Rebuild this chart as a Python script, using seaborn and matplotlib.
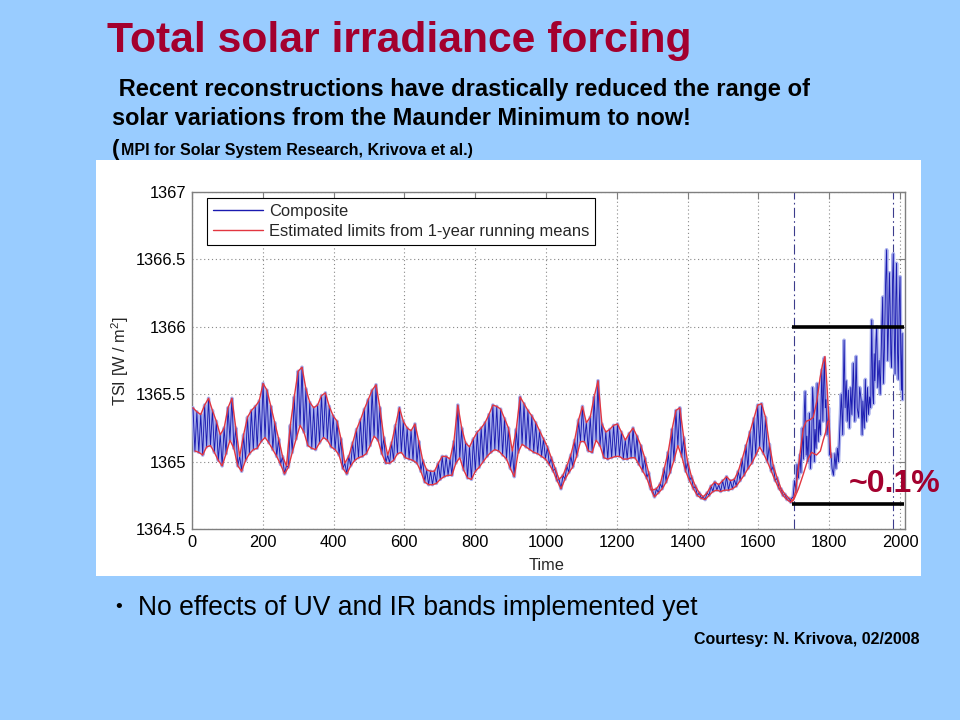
import numpy as np
import pandas as pd
import matplotlib
matplotlib.use("Agg")
import matplotlib.pyplot as plt
from matplotlib.patches import Rectangle
from matplotlib.lines import Line2D
from matplotlib.ticker import FuncFormatter
import seaborn as sns

# ---------------- data ----------------
# Composite TSI, one maximum and one minimum per ~11-year solar cycle, years 0..1690
cycle_max = [
    1365.40, 1365.37, 1365.35, 1365.42, 1365.47, 1365.38, 1365.30, 1365.20, 1365.25, 1365.40,
    1365.47, 1365.25, 1365.04, 1365.20, 1365.33, 1365.38, 1365.41, 1365.45, 1365.58, 1365.53,
    1365.41, 1365.29, 1365.17, 1365.04, 1364.97, 1365.27, 1365.48, 1365.67, 1365.70, 1365.54,
    1365.44, 1365.40, 1365.42, 1365.49, 1365.51, 1365.41, 1365.34, 1365.30, 1365.17, 1364.99,
    1365.04, 1365.14, 1365.24, 1365.31, 1365.39, 1365.46, 1365.53, 1365.57, 1365.40, 1365.18,
    1365.05, 1365.14, 1365.27, 1365.40, 1365.30, 1365.25, 1365.23, 1365.28, 1365.15, 1365.01,
    1364.94, 1364.93, 1364.93, 1364.99, 1365.04, 1365.04, 1365.02, 1365.15, 1365.42, 1365.25,
    1365.14, 1365.11, 1365.17, 1365.22, 1365.25, 1365.29, 1365.35, 1365.42, 1365.41, 1365.39,
    1365.32, 1365.25, 1365.08, 1365.24, 1365.48, 1365.43, 1365.38, 1365.34, 1365.29, 1365.23,
    1365.17, 1365.11, 1365.03, 1364.95, 1364.87, 1364.90, 1364.97, 1365.05, 1365.16, 1365.31,
    1365.41, 1365.29, 1365.33, 1365.48, 1365.60, 1365.28, 1365.22, 1365.24, 1365.27, 1365.28,
    1365.22, 1365.16, 1365.21, 1365.25, 1365.19, 1365.12, 1365.03, 1364.92, 1364.79, 1364.80,
    1364.84, 1364.95, 1365.07, 1365.24, 1365.38, 1365.40, 1365.18, 1365.00, 1364.89, 1364.82,
    1364.77, 1364.74, 1364.77, 1364.82, 1364.85, 1364.83, 1364.86, 1364.89, 1364.86, 1364.87,
    1364.93, 1365.02, 1365.12, 1365.22, 1365.32, 1365.42, 1365.43, 1365.33, 1365.13, 1364.97,
    1364.88, 1364.80, 1364.76, 1364.73,
]
cycle_min = [
    1365.08, 1365.07, 1365.05, 1365.11, 1365.12, 1365.07, 1365.01, 1364.97, 1365.06, 1365.16,
    1365.10, 1364.97, 1364.93, 1365.01, 1365.06, 1365.09, 1365.10, 1365.15, 1365.18, 1365.14,
    1365.09, 1365.04, 1364.98, 1364.91, 1364.96, 1365.07, 1365.17, 1365.27, 1365.22, 1365.12,
    1365.10, 1365.09, 1365.14, 1365.18, 1365.16, 1365.11, 1365.09, 1365.05, 1364.95, 1364.91,
    1364.97, 1365.01, 1365.03, 1365.04, 1365.06, 1365.12, 1365.19, 1365.16, 1365.06, 1364.99,
    1364.99, 1365.01, 1365.06, 1365.07, 1365.03, 1365.02, 1365.01, 1364.99, 1364.93, 1364.85,
    1364.83, 1364.83, 1364.84, 1364.87, 1364.89, 1364.90, 1364.90, 1364.99, 1365.03, 1364.94,
    1364.88, 1364.87, 1364.93, 1364.96, 1365.00, 1365.04, 1365.07, 1365.09, 1365.08, 1365.05,
    1365.02, 1364.95, 1364.89, 1365.07, 1365.13, 1365.11, 1365.09, 1365.07, 1365.06, 1365.04,
    1365.02, 1364.98, 1364.93, 1364.86, 1364.80, 1364.87, 1364.92, 1364.96, 1365.04, 1365.15,
    1365.15, 1365.08, 1365.07, 1365.16, 1365.12, 1365.03, 1365.02, 1365.03, 1365.04, 1365.04,
    1365.02, 1365.02, 1365.03, 1365.03, 1364.98, 1364.93, 1364.88, 1364.80, 1364.74, 1364.77,
    1364.80, 1364.85, 1364.92, 1365.01, 1365.12, 1365.04, 1364.93, 1364.86, 1364.80, 1364.75,
    1364.73, 1364.72, 1364.75, 1364.78, 1364.79, 1364.78, 1364.79, 1364.79, 1364.80, 1364.82,
    1364.86, 1364.90, 1364.95, 1364.99, 1365.05, 1365.11, 1365.06, 1365.00, 1364.93, 1364.86,
    1364.80, 1364.75, 1364.72, 1364.70,
]
cycle_length = 11.0  # years per solar cycle

# Composite after the Maunder Minimum (telescope era)
modern_year = [
    1690, 1694, 1698, 1702, 1706, 1709, 1713, 1717, 1720, 1724, 1727, 1730, 1732, 1735, 1737,
    1740, 1744, 1747, 1750, 1753, 1755, 1758, 1760, 1763, 1766, 1769, 1772, 1775, 1779, 1782,
    1786, 1789, 1791, 1794, 1798, 1801, 1805, 1808, 1812, 1816, 1819, 1823, 1826, 1830, 1834,
    1838, 1842, 1845, 1848, 1851, 1854, 1857, 1861, 1864, 1868, 1872, 1876, 1879, 1883, 1886,
    1890, 1893, 1895, 1899, 1902, 1905, 1908, 1911, 1914, 1917, 1920, 1923, 1925, 1927, 1929,
    1932, 1934, 1937, 1941, 1944, 1948, 1951, 1953, 1956, 1959, 1962, 1965, 1967, 1970, 1972,
    1974, 1976, 1979, 1981, 1984, 1986, 1988, 1990, 1993, 1995, 1998, 2000, 2002, 2004, 2006,
    2007,
]
modern_tsi = [
    1364.71, 1364.73, 1364.74, 1364.86, 1364.78, 1364.98, 1364.88, 1365.05, 1364.92, 1365.25,
    1365.02, 1365.40, 1365.52, 1365.05, 1365.19, 1365.00, 1365.36, 1364.95, 1365.11, 1365.55,
    1365.45, 1365.00, 1365.24, 1365.10, 1365.58, 1365.15, 1365.31, 1365.20, 1365.68, 1365.30,
    1365.77, 1365.40, 1365.46, 1365.20, 1365.40, 1365.05, 1365.06, 1364.95, 1364.90, 1365.06,
    1364.95, 1365.10, 1365.00, 1365.26, 1365.50, 1365.20, 1365.90, 1365.40, 1365.60, 1365.30,
    1365.53, 1365.25, 1365.55, 1365.35, 1365.73, 1365.30, 1365.78, 1365.40, 1365.33, 1365.55,
    1365.46, 1365.20, 1365.45, 1365.25, 1365.61, 1365.30, 1365.55, 1365.35, 1365.48, 1365.40,
    1366.05, 1365.50, 1365.43, 1365.80, 1365.60, 1365.90, 1366.00, 1365.55, 1365.75, 1365.50,
    1365.95, 1366.22, 1365.58, 1365.85, 1366.30, 1366.57, 1365.75, 1365.95, 1366.40, 1366.15,
    1365.80, 1365.70, 1366.35, 1366.54, 1365.90, 1365.65, 1366.20, 1366.47, 1365.80, 1365.61,
    1366.20, 1366.37, 1365.80, 1365.53, 1365.95, 1365.46,
]

# Estimated limits (red) after 1690
limit_up_year = [1697, 1705, 1717, 1727, 1735, 1745, 1755, 1765, 1774, 1781, 1788, 1794, 1800, 1805]
limit_up_tsi = [1364.71, 1364.78, 1365.05, 1365.25, 1365.30, 1365.31, 1365.33, 1365.45,
                1365.62, 1365.72, 1365.78, 1365.55, 1365.26, 1365.03]
limit_lo_year = [1700, 1713, 1727, 1740, 1750, 1764, 1775, 1783, 1790, 1796, 1800]
limit_lo_tsi = [1364.72, 1364.80, 1364.91, 1365.02, 1365.07, 1365.05, 1365.08, 1365.16,
                1365.22, 1365.30, 1365.30]

# Annotations
marker_years = [1700, 1980]          # dash-dot verticals
range_levels = [1366.0, 1364.69]     # thick black bars (~0.1 %)
range_span = [1695, 2012]

x_ticks = list(range(0, 2001, 200))
y_ticks = [1364.5, 1365.0, 1365.5, 1366.0, 1366.5, 1367.0]

# ---------------- build tables ----------------
peak_year = np.arange(len(cycle_max)) * cycle_length + 3.0
trough_year = peak_year + cycle_length / 2
comp_x = np.ravel(np.column_stack([peak_year, trough_year]))
comp_y = np.ravel(np.column_stack([cycle_max, cycle_min]))
composite = pd.DataFrame({
    "year": np.concatenate([comp_x, modern_year]),
    "tsi": np.concatenate([comp_y, modern_tsi]),
})
upper = pd.DataFrame({"year": np.concatenate([peak_year, limit_up_year]),
                      "tsi": np.concatenate([cycle_max, limit_up_tsi])})
lower = pd.DataFrame({"year": np.concatenate([trough_year, limit_lo_year]),
                      "tsi": np.concatenate([cycle_min, limit_lo_tsi])})

# ---------------- style ----------------
sns.set_style("white")
plt.rcParams["font.family"] = ["Liberation Sans", "DejaVu Sans"]
plt.rcParams["mathtext.default"] = "regular"

BG = "#99CCFF"
TITLE_RED = "#A3002E"
BLUE = "#1A1AB0"
BLUE_HALO = "#A9B0EC"
RED = "#E23640"
GRAY = "#7F7F7F"

fig = plt.figure(figsize=(9.6, 7.2), dpi=100)
fig.patch.set_facecolor(BG)
W, H = 960.0, 720.0

# white panel behind the chart
fig.add_artist(Rectangle((96 / W, 1 - 576 / H), (921 - 96) / W, (576 - 160) / H,
                         transform=fig.transFigure, facecolor="white",
                         edgecolor="none", zorder=0))

ax = fig.add_axes([191.9 / W, 1 - 529.3 / H, (905 - 191.9) / W, (529.3 - 191.7) / H])
ax.set_facecolor("white")

# composite: a pale wide stroke under the dark line (dense oscillation look)
sns.lineplot(data=composite, x="year", y="tsi", ax=ax, color=BLUE_HALO, linewidth=2.6,
             estimator=None, sort=False, zorder=3)
sns.lineplot(data=composite, x="year", y="tsi", ax=ax, color=BLUE, linewidth=0.65,
             estimator=None, sort=False, zorder=3.5)
sns.lineplot(data=upper, x="year", y="tsi", ax=ax, color=RED, linewidth=1.0,
             estimator=None, sort=False, zorder=4)
sns.lineplot(data=lower, x="year", y="tsi", ax=ax, color=RED, linewidth=1.0,
             estimator=None, sort=False, zorder=4)

for yr in marker_years:
    ax.axvline(yr, color="#3C3C8C", linewidth=0.8, linestyle=(0, (9, 3, 1.5, 3)), zorder=2)
ax.hlines(range_levels, range_span[0], range_span[1], colors="black", linewidth=2.6, zorder=5)

ax.set_xlim(0, 2014)
ax.set_ylim(1364.5, 1367.0)
ax.set_xticks(x_ticks)
ax.set_yticks(y_ticks)
ax.yaxis.set_major_formatter(FuncFormatter(lambda v, p: f"{v:g}"))
ax.grid(True, color="#888888", linestyle=(0, (1, 2.5)), linewidth=0.8)
ax.set_axisbelow(True)
ax.tick_params(direction="in", top=True, right=True, length=5, width=0.8,
               color=GRAY, labelsize=11.8, labelcolor="black", pad=4)
for s in ax.spines.values():
    s.set_color(GRAY)
    s.set_linewidth(1.0)
ax.set_xlabel("")
ax.set_ylabel("")

handles = [Line2D([], [], color=BLUE, linewidth=1.0),
           Line2D([], [], color=RED, linewidth=1.0)]
leg = ax.legend(handles, ["Composite", "Estimated limits from 1-year running means"],
                loc="upper left", bbox_to_anchor=(0.0216, 0.980), borderaxespad=0,
                fontsize=11.85, handlelength=3.05, handletextpad=0.35,
                labelspacing=0.3, borderpad=0.35, fancybox=False, framealpha=1)
leg.get_frame().set_edgecolor("black")
leg.get_frame().set_linewidth(0.8)

fig.text(547 / W, 1 - 565 / H, "Time", ha="center", va="center", fontsize=11.8)
fig.text(120 / W, 1 - 361 / H, "TSI [W / m$^{2}$]", ha="center", va="center",
         rotation=90, fontsize=11.8)

fig.text(895 / W, 1 - 484 / H, "~0.1%", ha="center", va="center", fontsize=23,
         fontweight="bold", color=TITLE_RED, zorder=10)

# slide texts
fig.text(107 / W, 1 - 52 / H, "Total solar irradiance forcing", ha="left",
         va="baseline", fontsize=30.7, fontweight="bold", color=TITLE_RED)
fig.text(112 / W, 1 - 96 / H,
         " Recent reconstructions have drastically reduced the range of",
         ha="left", va="baseline", fontsize=17.1, fontweight="bold", color="black")
fig.text(112 / W, 1 - 125 / H, "solar variations from the Maunder Minimum to now!",
         ha="left", va="baseline", fontsize=16.9, fontweight="bold", color="black")
fig.text(112 / W, 1 - 155 / H, "(", ha="left", va="baseline", fontsize=16,
         fontweight="bold", color="black")
fig.text(121 / W, 1 - 155 / H, "MPI for Solar System Research, Krivova et al.)",
         ha="left", va="baseline", fontsize=11.5, fontweight="bold", color="black")

fig.text(115 / W, 1 - 612 / H, "\u2022", ha="left", va="baseline", fontsize=14,
         color="black")
fig.text(138 / W, 1 - 615 / H, "No effects of UV and IR bands implemented yet",
         ha="left", va="baseline", fontsize=19.1, color="black")
fig.text(919 / W, 1 - 644 / H, "Courtesy: N. Krivova, 02/2008", ha="right",
         va="baseline", fontsize=11.5, fontweight="bold", color="black")

fig.savefig("out.png", dpi=100, facecolor=BG)
